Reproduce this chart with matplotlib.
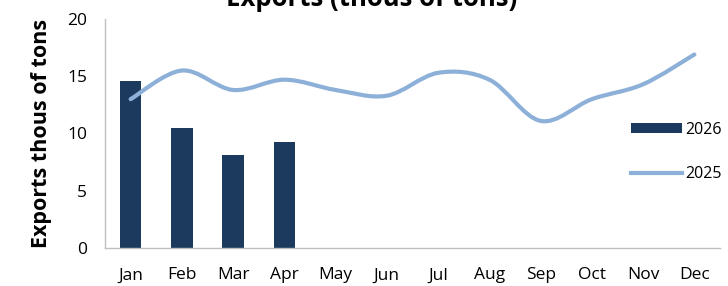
import numpy as np
import matplotlib
matplotlib.use("Agg")
import matplotlib.pyplot as plt
from matplotlib.path import Path
from matplotlib.patches import PathPatch
from matplotlib.lines import Line2D
from matplotlib.patches import Patch

months = ["Jan", "Feb", "Mar", "Apr", "May", "Jun", "Jul", "Aug", "Sep", "Oct", "Nov", "Dec"]
exports_2026 = [14.6, 10.5, 8.1, 9.3]
exports_2025 = [13.0, 15.5, 13.8, 14.7, 13.8, 13.3, 15.3, 14.7, 11.1, 13.0, 14.3, 16.9]

plt.rcParams['font.family'] = ['Open Sans', 'DejaVu Sans']

fig = plt.figure(figsize=(7.28, 2.86), dpi=100)
ax = fig.add_axes([105/728, 1-248/286, (720-105)/728, (248-19)/286])

bar_color = "#1C3A5E"
line_color = "#8DB0D9"

x26 = np.arange(len(exports_2026))
ax.bar(x26, exports_2026, width=0.42, color=bar_color, zorder=2)

# Excel-style smoothed line via cubic Bezier segments (Catmull-Rom control points)
xs = np.arange(len(exports_2025), dtype=float)
ys = np.array(exports_2025, dtype=float)
t = 1/6
verts = [(xs[0], ys[0])]
codes = [Path.MOVETO]
n = len(xs)
for i in range(n - 1):
    p0 = (xs[max(i-1, 0)], ys[max(i-1, 0)])
    p1 = (xs[i], ys[i])
    p2 = (xs[i+1], ys[i+1])
    p3 = (xs[min(i+2, n-1)], ys[min(i+2, n-1)])
    c1 = (p1[0] + (p2[0]-p0[0])*t, p1[1] + (p2[1]-p0[1])*t)
    c2 = (p2[0] - (p3[0]-p1[0])*t, p2[1] - (p3[1]-p1[1])*t)
    verts += [c1, c2, p2]
    codes += [Path.CURVE4]*3
path = Path(verts, codes)
ax.add_patch(PathPatch(path, facecolor='none', edgecolor=line_color, lw=3, capstyle='round', zorder=3))

ax.set_xlim(-0.5, 11.5)
ax.set_ylim(0, 20)
ax.set_yticks([0, 5, 10, 15, 20])
ax.set_xticks(np.arange(12))
ax.set_xticklabels(months)
ax.tick_params(axis='both', length=0, labelsize=12.5, colors='#000000')
ax.tick_params(axis='y', pad=13)
ax.tick_params(axis='x', pad=14)
for s in ['top', 'right']:
    ax.spines[s].set_visible(False)
for s in ['left', 'bottom']:
    ax.spines[s].set_color('#BFBFBF')
    ax.spines[s].set_linewidth(1)

ax.set_ylabel("Exports thous of tons", fontsize=15.5, fontweight='bold', labelpad=11)
fig.text(0.51, 1 - 6/286, "Exports (thous of tons)", ha='center', va='baseline', fontsize=18.5, fontweight='bold')

handles = [Patch(facecolor=bar_color, edgecolor='none'),
           Line2D([0], [0], color=line_color, lw=3)]
fig.legend(handles, ["2026", "2025"], loc='center left', bbox_to_anchor=(631/728, 1-152/286),
           frameon=False, fontsize=11.5, handlelength=3.2, handleheight=0.6, labelspacing=1.75,
           handletextpad=0.2, borderpad=0, borderaxespad=0)

fig.savefig("out.png", dpi=100)
